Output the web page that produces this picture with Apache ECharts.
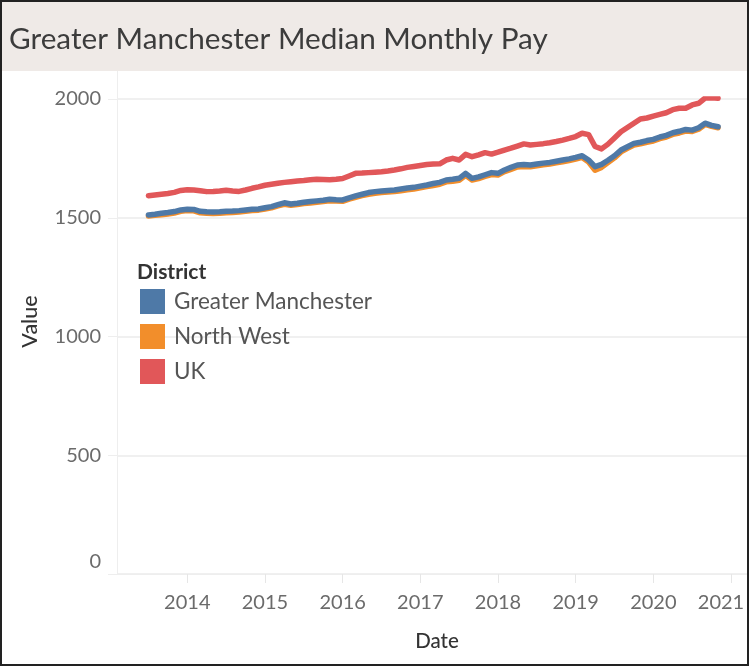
<!DOCTYPE html>
<html>
<head>
<meta charset="utf-8">
<script src="https://cdn.jsdelivr.net/npm/echarts@6/dist/echarts.min.js"></script>
<style>
  html, body { margin: 0; padding: 0; background: #fff; }
  #main { width: 749px; height: 666px; }
</style>
</head>
<body>
<div id="main"></div>
<script>
var dates = [
  '2013-07','2013-08','2013-09','2013-10','2013-11','2013-12',
  '2014-01','2014-02','2014-03','2014-04','2014-05','2014-06','2014-07','2014-08','2014-09','2014-10','2014-11','2014-12',
  '2015-01','2015-02','2015-03','2015-04','2015-05','2015-06','2015-07','2015-08','2015-09','2015-10','2015-11','2015-12',
  '2016-01','2016-02','2016-03','2016-04','2016-05','2016-06','2016-07','2016-08','2016-09','2016-10','2016-11','2016-12',
  '2017-01','2017-02','2017-03','2017-04','2017-05','2017-06','2017-07','2017-08','2017-09','2017-10','2017-11','2017-12',
  '2018-01','2018-02','2018-03','2018-04','2018-05','2018-06','2018-07','2018-08','2018-09','2018-10','2018-11','2018-12',
  '2019-01','2019-02','2019-03','2019-04','2019-05','2019-06','2019-07','2019-08','2019-09','2019-10','2019-11','2019-12',
  '2020-01','2020-02','2020-03','2020-04','2020-05','2020-06','2020-07','2020-08','2020-09','2020-10','2020-11'
];

var greaterManchester = [
  1512,1515,1519,1522,1526,1533,
  1536,1535,1527,1525,1524,1525,1527,1528,1530,1533,1536,1537,
  1542,1547,1555,1563,1558,1561,1565,1568,1571,1574,1578,1576,
  1575,1584,1592,1599,1606,1610,1613,1615,1617,1621,1625,1628,
  1633,1638,1644,1649,1659,1662,1666,1687,1666,1672,1681,1690,
  1687,1701,1712,1722,1724,1722,1726,1730,1733,1738,1743,1748,
  1754,1761,1743,1715,1725,1742,1761,1785,1799,1813,1818,1825,
  1830,1840,1847,1858,1864,1872,1869,1879,1898,1889,1883
];

var northWest = [
  1507,1510,1513,1516,1520,1527,
  1530,1529,1521,1519,1518,1519,1521,1522,1524,1527,1530,1532,
  1537,1542,1550,1557,1553,1556,1560,1562,1565,1568,1571,1570,
  1569,1578,1586,1593,1599,1603,1606,1608,1610,1614,1618,1621,
  1626,1631,1636,1641,1651,1654,1658,1679,1659,1665,1674,1682,
  1680,1694,1704,1714,1716,1715,1719,1723,1726,1731,1736,1741,
  1747,1754,1735,1700,1712,1732,1752,1777,1792,1806,1811,1818,
  1823,1833,1840,1851,1857,1865,1863,1873,1893,1885,1879
];

var uk = [
  1593,1596,1599,1602,1607,1615,
  1618,1617,1614,1610,1611,1613,1616,1613,1611,1617,1624,1630,
  1637,1641,1645,1649,1652,1655,1657,1660,1662,1661,1660,1662,
  1665,1676,1687,1688,1690,1692,1694,1697,1701,1706,1712,1716,
  1720,1724,1726,1727,1743,1750,1743,1767,1757,1765,1774,1768,
  1776,1785,1793,1802,1811,1806,1809,1812,1816,1821,1827,1834,
  1842,1856,1850,1800,1790,1810,1836,1862,1880,1898,1916,1920,
  1928,1935,1942,1955,1961,1961,1975,1982,2004,2005,2003
];

var districts = ['Greater Manchester', 'North West', 'UK'];
var colors = ['#4e79a7', '#f28e2b', '#e15759'];
var yearTicks = [2014, 2015, 2016, 2017, 2018, 2019, 2020, 2021];

var font = 'Lato, "Noto Sans", sans-serif';

// 'YYYY-MM' -> decimal year at the first of that month
function toYear(d) {
  var p = d.split('-');
  return +p[0] + (+p[1] - 1) / 12;
}

function pairs(vals) {
  var out = [];
  for (var i = 0; i < dates.length; i++) {
    out.push([toYear(dates[i]), vals[i]]);
  }
  return out;
}

var chart = echarts.init(document.getElementById('main'));

var mkSeries = function (idx, vals, z) {
  return {
    name: districts[idx],
    type: 'line',
    data: pairs(vals),
    showSymbol: false,
    symbol: 'none',
    z: z,
    color: colors[idx],
    lineStyle: { width: 5.5, color: colors[idx], cap: 'round', join: 'round' },
    emphasis: { disabled: true }
  };
};

var option = {
  animation: false,
  backgroundColor: '#fff',
  title: [
    {
      text: 'Greater Manchester Median Monthly Pay',
      left: 4,
      top: 19,
      textStyle: { fontFamily: font, fontSize: 29.7, fontWeight: 'normal', color: '#3c3c3c' }
    },
    {
      text: 'District',
      left: 132,
      top: 257,
      textStyle: { fontFamily: font, fontSize: 21, fontWeight: 'bold', color: '#333' }
    }
  ],
  graphic: [
    {
      type: 'rect',
      z: -1,
      shape: { x: 0, y: 0, width: 749, height: 71 },
      style: { fill: '#efeae7' }
    },
    {
      type: 'line',
      shape: { x1: 117.5, y1: 71, x2: 117.5, y2: 99 },
      style: { stroke: '#eeeeee', lineWidth: 1 }
    },
    {
      type: 'rect',
      z: 100,
      shape: { x: 1, y: 1, width: 747, height: 664 },
      style: { fill: null, stroke: '#222', lineWidth: 2 }
    }
  ],
  tooltip: { show: false },
  legend: {
    data: districts,
    orient: 'vertical',
    left: 135,
    top: 284,
    icon: 'rect',
    itemWidth: 25,
    itemHeight: 25,
    itemGap: 10,
    selectedMode: false,
    textStyle: { fontFamily: font, fontSize: 22.5, color: '#555', padding: [0, 0, 0, 4] }
  },
  grid: { left: 117, right: 2, top: 99, bottom: 92, outerBoundsMode: 'none', containLabel: false },
  xAxis: {
    type: 'value',
    min: 2013.095,
    max: 2021.206,
    name: 'Date',
    nameLocation: 'middle',
    nameGap: 57,
    nameTextStyle: { fontFamily: font, fontSize: 20.5, color: '#333', fontWeight: 500, padding: [0, 0, 0, 10] },
    axisLine: { show: true, lineStyle: { color: '#eeeeee', width: 1 } },
    axisTick: { show: true, customValues: yearTicks, length: 9, lineStyle: { color: '#e6e6e6' } },
    axisLabel: {
      customValues: yearTicks,
      margin: 19,
      fontFamily: font,
      fontSize: 20,
      color: '#6b6b6b',
      hideOverlap: false,
      formatter: function (v) {
        var y = Math.round(v);
        return y === 2021 ? '{r|' + y + '}' : y + '';
      },
      rich: { r: { fontFamily: font, fontSize: 20, color: '#6b6b6b', padding: [0, 20, 0, 0] } }
    },
    splitLine: { show: false }
  },
  yAxis: {
    type: 'value',
    min: 0,
    max: 2000,
    interval: 500,
    name: 'Value',
    nameLocation: 'middle',
    nameGap: 76,
    nameTextStyle: { fontFamily: font, fontSize: 21.5, color: '#333', fontWeight: 500, padding: [0, 0, 0, 30] },
    axisLine: { show: true, lineStyle: { color: '#eeeeee', width: 1 } },
    axisTick: { show: true, length: 9, lineStyle: { color: '#eeeeee' } },
    axisLabel: {
      margin: 16,
      fontFamily: font,
      fontSize: 20,
      color: '#6b6b6b',
      formatter: function (v) { return v === 0 ? '{z|0}' : v + ''; },
      rich: { z: { fontFamily: font, fontSize: 20, color: '#6b6b6b', padding: [0, 0, 25, 0] } }
    },
    splitLine: { show: true, lineStyle: { color: '#f0f0f0', width: 2 } }
  },
  series: [
    mkSeries(0, greaterManchester, 4),
    mkSeries(1, northWest, 3),
    mkSeries(2, uk, 3)
  ]
};

chart.setOption(option);
</script>
</body>
</html>
